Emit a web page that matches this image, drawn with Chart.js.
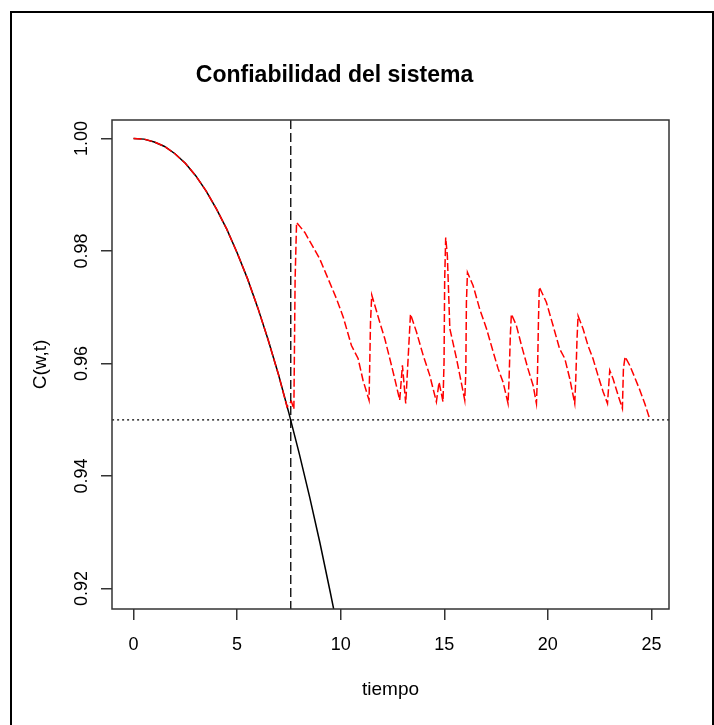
<!DOCTYPE html>
<html>
<head>
<meta charset="utf-8">
<style>
  html, body { margin: 0; padding: 0; background: #fff; }
  #wrap { position: relative; width: 714px; height: 725px; overflow: hidden; }
  #frame { position: absolute; left: 10px; top: 11px; width: 704px; height: 800px;
           border: 2px solid #000; box-sizing: border-box; pointer-events: none; }
</style>
</head>
<body>
<div id="wrap">
  <canvas id="myChart" width="714" height="725"></canvas>
  <div id="frame"></div>
</div>
<script src="https://cdn.jsdelivr.net/npm/chart.js@4/dist/chart.umd.min.js"></script>
<script>
// tiempo / confiabilidad sin mantenimiento (curva negra)
const blackT = [0, 0.5, 1, 1.5, 2, 2.5, 3, 3.5, 4, 4.5, 5, 5.5, 6, 6.5, 7, 7.5, 8, 8.5, 9, 9.5, 10];
const blackC = [1.0000, 0.9999, 0.9994, 0.9986, 0.9973, 0.9956, 0.9934, 0.9907, 0.9875, 0.9839, 0.9797,
                0.9751, 0.9699, 0.9642, 0.9580, 0.9512, 0.9440, 0.9363, 0.9281, 0.9193, 0.9102];

// con mantenimiento (curva roja)
const redT = [0, 0.5, 1, 1.5, 2, 2.5, 3, 3.5, 4, 4.5, 5, 5.5, 6, 6.5, 7,
              7.41, 7.62, 7.74, 7.80, 7.87,
              8.27, 8.67, 8.99, 9.39, 9.80, 10.12, 10.52, 10.84, 11.08, 11.37,
              11.44, 11.50,
              11.89, 12.13, 12.37, 12.61, 12.85,
              12.98, 13.14,
              13.37,
              13.66, 13.98, 14.30, 14.62,
              14.75, 14.94,
              14.99, 15.02, 15.07,
              15.15, 15.27, 15.59, 15.91, 15.99,
              16.04, 16.07, 16.12,
              16.39, 16.71, 17.04, 17.36, 17.60, 17.84, 18.08,
              18.13, 18.19, 18.24,
              18.48, 18.73, 19.04, 19.29, 19.45,
              19.50, 19.55, 19.59,
              19.93, 20.25, 20.57, 20.82, 21.06, 21.30,
              21.35, 21.41, 21.46,
              21.70, 21.94, 22.18, 22.42, 22.67, 22.88,
              22.99, 23.15, 23.39, 23.60,
              23.65, 23.73,
              23.95, 24.19, 24.44, 24.68, 24.89];
const redC = [1.0000, 0.9999, 0.9994, 0.9986, 0.9973, 0.9956, 0.9934, 0.9907, 0.9875, 0.9839, 0.9797, 0.9751, 0.9699, 0.9642, 0.9580,
              0.9523, 0.9533, 0.9519, 0.9750, 0.9851,
              0.9833, 0.9807, 0.9786, 0.9751, 0.9715, 0.9683, 0.9632, 0.9609, 0.9570, 0.9535,
              0.9674, 0.9722,
              0.9673, 0.9644, 0.9609, 0.9573, 0.9535,
              0.9597, 0.9529,
              0.9688,
              0.9656, 0.9615, 0.9579, 0.9532,
              0.9567, 0.9532,
              0.9603, 0.9748, 0.9824,
              0.9792, 0.9662, 0.9609, 0.9550, 0.9535,
              0.9585, 0.9709, 0.9762,
              0.9739, 0.9697, 0.9662, 0.9621, 0.9591, 0.9567, 0.9529,
              0.9573, 0.9650, 0.9688,
              0.9668, 0.9632, 0.9591, 0.9561, 0.9529,
              0.9579, 0.9680, 0.9736,
              0.9709, 0.9668, 0.9626, 0.9609, 0.9573, 0.9529,
              0.9573, 0.9644, 0.9685,
              0.9662, 0.9632, 0.9609, 0.9579, 0.9550, 0.9529,
              0.9588, 0.9573, 0.9544, 0.9520,
              0.9591, 0.9612,
              0.9597, 0.9576, 0.9553, 0.9529, 0.9505];

const vLineT = 7.59;   // abline(v=...)
const hLineC = 0.95;   // abline(h=...)

const xTicks = [0, 5, 10, 15, 20, 25];
const yTicks = [0.92, 0.94, 0.96, 0.98, 1.00];

const fontFam = "'Liberation Sans', Arial, sans-serif";
Chart.defaults.font.family = fontFam;
Chart.defaults.color = '#000';

const ctx = document.getElementById('myChart');

// caja del grafico + etiquetas del eje y giradas (estilo R)
const rBox = {
    id: 'rBox',
    afterDraw(chart) {
        const c = chart.ctx;
        const a = chart.chartArea;
        const y = chart.scales.y;
        c.save();
        c.strokeStyle = '#333';
        c.lineWidth = 1.5;
        c.strokeRect(a.left, a.top, a.right - a.left, a.bottom - a.top);
        c.fillStyle = '#000';
        c.font = '18px ' + fontFam;
        c.textAlign = 'center';
        c.textBaseline = 'middle';
        yTicks.forEach(v => {
            c.save();
            c.translate(82, y.getPixelForValue(v));
            c.rotate(-Math.PI / 2);
            c.fillText(v.toFixed(2), 0, 0);
            c.restore();
        });
        c.restore();
    }
};

new Chart(ctx, {
    type: 'line',
    data: {
        datasets: [{
            label: 'con mantenimiento',
            data: redT.map((t, i) => ({ x: t, y: redC[i] })),
            borderColor: '#ff0000',
            borderWidth: 1.5,
            borderDash: [8, 3],
            pointRadius: 0,
            tension: 0,
            order: 0
        }, {
            label: 'sin mantenimiento',
            data: blackT.map((t, i) => ({ x: t, y: blackC[i] })),
            borderColor: '#000',
            borderWidth: 1.5,
            pointRadius: 0,
            tension: 0,
            order: 1
        }, {
            label: 'v',
            data: [{ x: vLineT, y: 0.90 }, { x: vLineT, y: 1.01 }],
            borderColor: '#000',
            borderWidth: 1.3,
            borderDash: [9, 4],
            pointRadius: 0,
            order: 2
        }, {
            label: 'h',
            data: [{ x: -2, y: hLineC }, { x: 27, y: hLineC }],
            borderColor: '#000',
            borderWidth: 1.3,
            borderDash: [2, 3],
            pointRadius: 0,
            order: 2
        }]
    },
    options: {
        responsive: false,
        animation: false,
        events: [],
        layout: { padding: { left: 0, right: 45, top: 0, bottom: 0 } },
        plugins: {
            legend: { display: false },
            tooltip: { enabled: false },
            title: {
                display: true,
                text: 'Confiabilidad del sistema',
                color: '#000',
                font: { size: 23, weight: 'bold' },
                padding: { top: 62, bottom: 30.4 }
            }
        },
        scales: {
            x: {
                type: 'linear',
                min: -1.04,
                max: 25.85,
                afterBuildTicks: s => { s.ticks = xTicks.map(v => ({ value: v })); },
                afterFit: s => { s.height = 116; },
                border: { display: false },
                grid: { drawOnChartArea: false, drawTicks: true, tickLength: 11, color: '#333', lineWidth: 1.5 },
                ticks: { font: { size: 18 }, color: '#000', padding: 14, maxRotation: 0, autoSkip: false },
                title: { display: true, text: 'tiempo', color: '#000', font: { size: 19 }, padding: { top: 0, bottom: 23.6 } }
            },
            y: {
                min: 0.91637,
                max: 1.0033,
                afterBuildTicks: s => { s.ticks = yTicks.map(v => ({ value: v })); },
                afterFit: s => { s.width = 112; },
                border: { display: false },
                grid: { drawOnChartArea: false, drawTicks: true, tickLength: 11, color: '#333', lineWidth: 1.5 },
                ticks: { display: false },
                title: { display: true, text: 'C(w,t)', color: '#000', font: { size: 19 }, padding: { top: 29, bottom: 0 } }
            }
        }
    },
    plugins: [rBox]
});
</script>
</body>
</html>
